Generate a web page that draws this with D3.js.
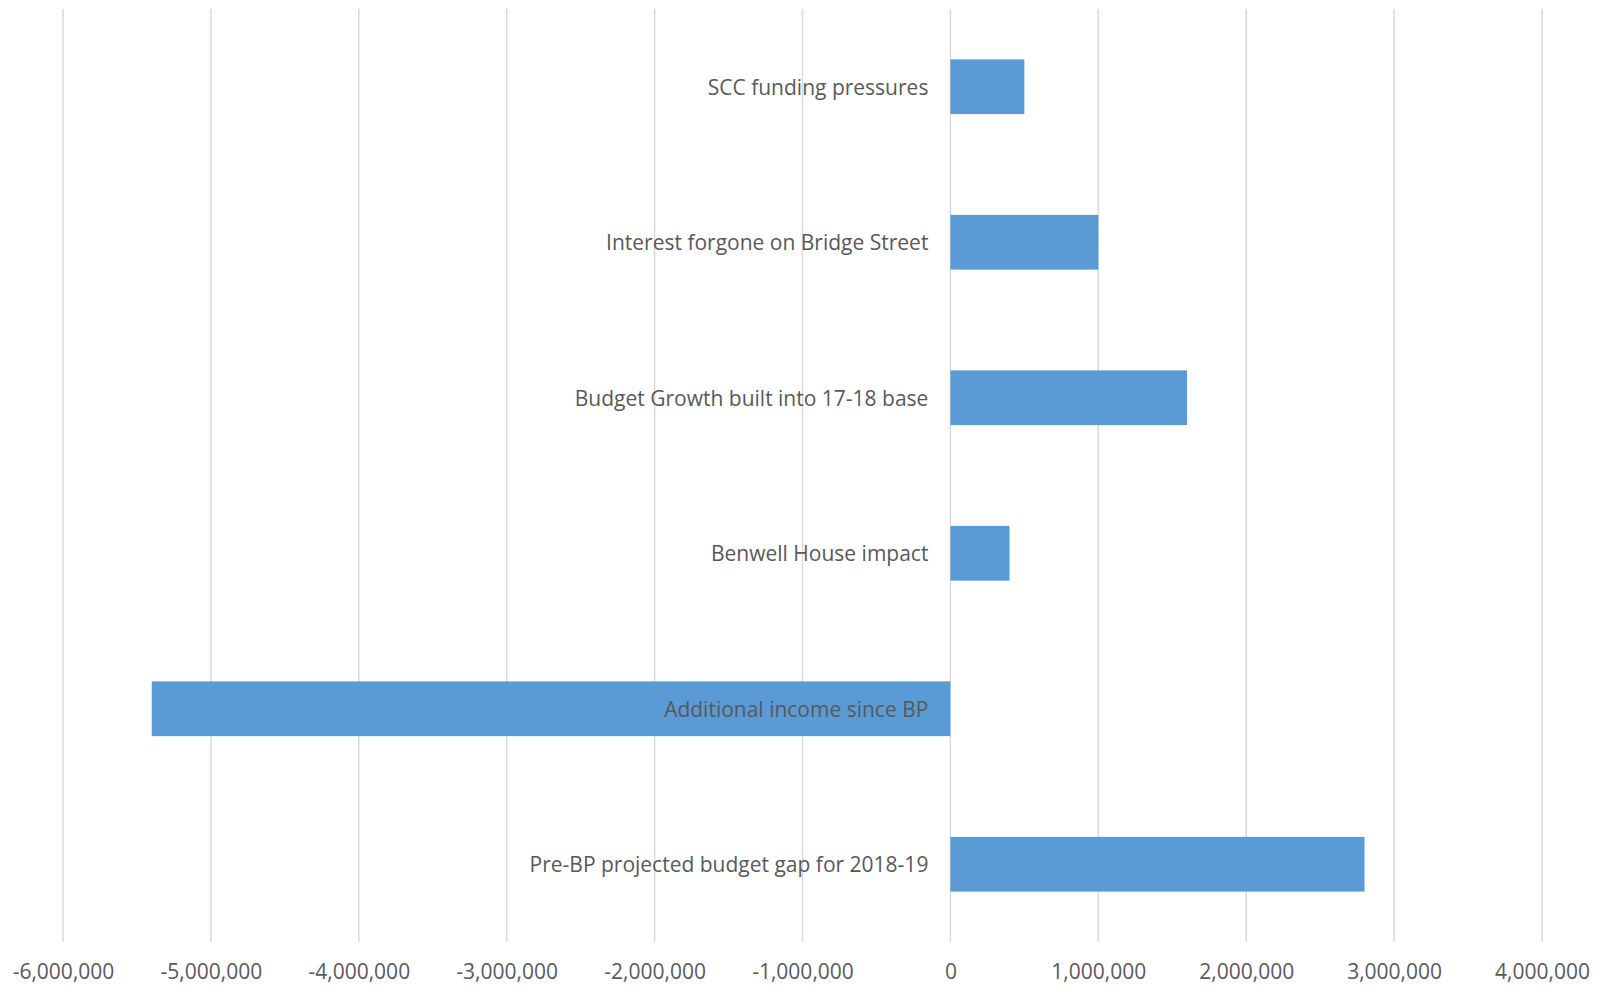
<!DOCTYPE html>
<html>
<head>
<meta charset="utf-8">
<script src="https://cdn.jsdelivr.net/npm/d3@7"></script>
<style>
  body { margin: 0; background: #fff; }
</style>
</head>
<body>
<div id="container"></div>
<script>
// data
let categories = [
  "SCC funding pressures",
  "Interest forgone on Bridge Street",
  "Budget Growth built into 17-18 base",
  "Benwell House impact",
  "Additional income since BP",
  "Pre-BP projected budget gap for 2018-19"
];
let values = [500000, 1000000, 1600000, 400000, -5400000, 2800000];
let tickValues = [-6000000, -5000000, -4000000, -3000000, -2000000, -1000000, 0, 1000000, 2000000, 3000000, 4000000];

let w = 1597;
let h = 986;
let plotLeft = 63;
let plotRight = 1542;
let plotTop = 9;
let plotBottom = 942;

let textColor = "#595959";
let barColor = "#5B9BD5";
let gridColor = "#d9d9d9";
let font = "'Open Sans', 'Noto Sans', sans-serif";

let viz = d3.select("#container")
  .append("svg")
    .attr("width", w)
    .attr("height", h)
    .style("background-color", "white");

let xScale = d3.scaleLinear().domain([-6000000, 4000000]).range([plotLeft, plotRight]);
let yScale = d3.scaleBand().domain(categories).range([plotTop, plotBottom])
  .paddingInner(0.648).paddingOuter(0.324);

// vertical gridlines
viz.append("g").attr("class", "grid")
  .selectAll("line")
  .data(tickValues)
  .enter()
  .append("line")
    .attr("x1", d => xScale(d))
    .attr("x2", d => xScale(d))
    .attr("y1", plotTop)
    .attr("y2", plotBottom)
    .attr("stroke", gridColor)
    .attr("stroke-width", 1.5);

// bars
viz.append("g").attr("class", "bars")
  .selectAll("rect")
  .data(values)
  .enter()
  .append("rect")
    .attr("x", d => xScale(Math.min(0, d)))
    .attr("width", d => Math.abs(xScale(d) - xScale(0)))
    .attr("y", (d, i) => yScale(categories[i]))
    .attr("height", yScale.bandwidth())
    .attr("fill", barColor);

// category labels, right aligned just left of zero
viz.append("g").attr("class", "catLabels")
  .selectAll("text")
  .data(categories)
  .enter()
  .append("text")
    .text(d => d)
    .attr("x", xScale(0) - 22)
    .attr("y", d => yScale(d) + yScale.bandwidth() / 2)
    .attr("text-anchor", "end")
    .attr("dominant-baseline", "central")
    .attr("font-family", font)
    .attr("font-size", 21)
    .attr("fill", textColor);

// x axis labels
let fmt = d3.format(",");
let xAxis = d3.axisBottom(xScale)
  .tickValues(tickValues)
  .tickSize(0)
  .tickPadding(0)
  .tickFormat(d => fmt(d).replace("\u2212", "-"));

let xAxisGroup = viz.append("g").attr("class", "xaxis")
  .attr("transform", "translate(0, " + 971 + ")")
  .call(xAxis);
xAxisGroup.select(".domain").remove();
xAxisGroup.selectAll("text")
  .attr("dy", null)
  .attr("y", 0)
  .attr("dominant-baseline", "central")
  .attr("font-family", font)
  .attr("font-size", 21)
  .attr("fill", textColor);
</script>
</body>
</html>
